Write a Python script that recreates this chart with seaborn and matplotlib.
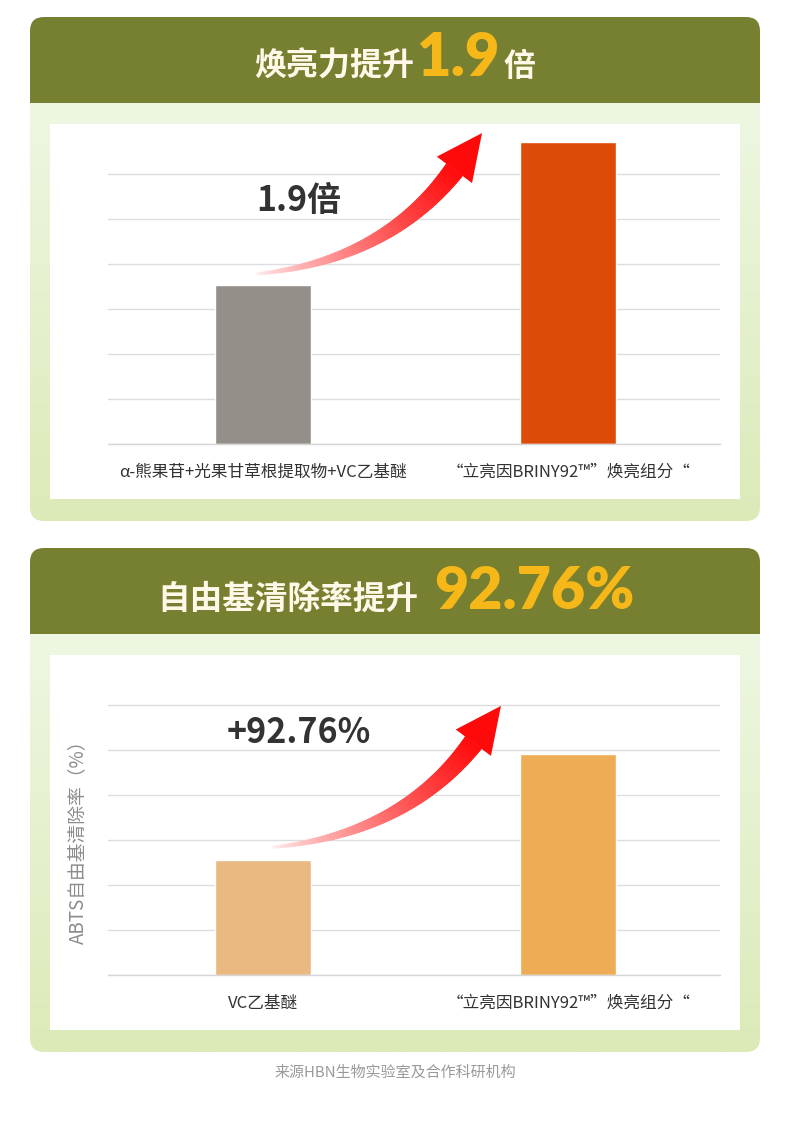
import numpy as np
import pandas as pd
import matplotlib
matplotlib.use("Agg")
import matplotlib.pyplot as plt
import seaborn as sns
from matplotlib.patches import FancyBboxPatch, Rectangle, Polygon
from matplotlib.collections import PolyCollection

W, H = 790, 1145

# chart 1: brightening power
BRIGHT_CATS = ["α-熊果苷+光果甘草根提取物+VC乙基醚", "“立亮因BRINY92™”焕亮组分“"]
BRIGHT_VALS = [3.54, 6.72]
BRIGHT_COLORS = ["#958F8A", "#DE4A08"]
BRIGHT_NOTE = "1.9倍"
BRIGHT_TITLE = ["焕亮力提升", "1.9", "倍"]

# chart 2: free radical scavenging rate
RADICAL_CATS = ["VC乙基醚", "“立亮因BRINY92™”焕亮组分“"]
RADICAL_VALS = [2.56, 4.91]
RADICAL_COLORS = ["#EAB982", "#EEAC55"]
RADICAL_NOTE = "+92.76%"
RADICAL_TITLE = ["自由基清除率提升", "92.76%"]
RADICAL_YLABEL = "ABTS自由基清除率（%）"

SOURCE = "来源HBN生物实验室及合作科研机构"

CJK = ["Noto Sans CJK SC", "DejaVu Sans"]
DIGIT = ["Lato", "Noto Sans CJK SC", "DejaVu Sans"]
CREAM = "#FFF8E8"
YELLOW = "#F5B818"
OLIVE = "#778031"

sns.set_theme(style="white")
plt.rcParams["font.family"] = CJK

fig = plt.figure(figsize=(W / 100, H / 100), dpi=100)
fig.patch.set_facecolor("white")

bg = fig.add_axes([0, 0, 1, 1], zorder=0)
top = fig.add_axes([0, 0, 1, 1], zorder=5)
for a in (bg, top):
    a.set_xlim(0, W)
    a.set_ylim(H, 0)
    a.axis("off")
    a.set_facecolor("none")


def px_axes(x0, y0, x1, y1):
    return fig.add_axes([x0 / W, 1 - y1 / H, (x1 - x0) / W, (y1 - y0) / H], zorder=2)


def draw_panel(y_top):
    box = FancyBboxPatch((30, y_top), 730, 504, boxstyle="round,pad=0,rounding_size=14",
                         fc="none", ec="none")
    bg.add_patch(box)
    g = np.linspace(0, 1, 200)[:, None, None]
    c0 = np.array([238, 247, 226]) / 255
    c1 = np.array([220, 234, 184]) / 255
    img = c0 + (c1 - c0) * g
    im = bg.imshow(img, extent=(30, 760, y_top + 504, y_top + 85), aspect="auto", zorder=0.5)
    im.set_clip_path(box)
    hdr = Rectangle((30, y_top), 730, 86, fc=OLIVE, ec="none", zorder=0.6)
    bg.add_patch(hdr)
    hdr.set_clip_path(box)
    bg.add_patch(Rectangle((50, y_top + 107), 690, 375, fc="white", ec="none", zorder=0.7))
    bg.set_xlim(0, W)
    bg.set_ylim(H, 0)


def draw_title(parts, xc, base):
    r = fig.canvas.get_renderer()
    items = []
    for s, size, color, fam, weight, gap in parts:
        t = top.text(0, base, s, fontsize=size, color=color, family=fam,
                     fontweight=weight, va="baseline", ha="left")
        items.append((t, gap, t.get_window_extent(r).width))
    total = sum(w + g for _, g, w in items)
    x = xc - total / 2
    for t, g, w in items:
        x += g
        t.set_x(x)
        x += w


def draw_chart(y_base, cats, vals, colors, note, note_xy):
    ax = px_axes(108, y_base - 320, 720, y_base)
    df = pd.DataFrame({"cat": cats, "val": vals})
    sns.barplot(data=df, x="cat", y="val", hue="cat", palette=dict(zip(cats, colors)),
                width=0.315, saturation=1, legend=False, ax=ax)
    ax.set_xlim(-0.508, 1.498)
    ax.set_ylim(0, 320 / 45)
    ax.set_facecolor("none")
    ax.set_yticks(range(7))
    ax.grid(True, axis="y", color="#DDDDDD", lw=1)
    ax.set_axisbelow(True)
    for side in ("left", "top", "right"):
        ax.spines[side].set_visible(False)
    ax.spines["bottom"].set_color("#D6D6D6")
    ax.spines["bottom"].set_linewidth(1)
    ax.tick_params(axis="x", length=0, pad=14, labelsize=12, labelcolor="#333333")
    ax.tick_params(axis="y", length=0, labelleft=False)
    ax.set_xlabel("")
    ax.set_ylabel("")
    ax.text(note_xy[0], note_xy[1], note, ha="center", va="center", fontsize=24.5,
            fontweight="bold", color="#333333", zorder=5)
    return ax


def draw_arrow(ax, start, tip):
    to_px = ax.transData + top.transData.inverted()
    S = np.array(to_px.transform(start))
    T = np.array(to_px.transform(tip))
    d = np.array([0.6, -0.8])
    B = T - 46 * d
    s0 = np.array([1.0, -0.1])
    s0 /= np.linalg.norm(s0)
    a, b = np.linalg.solve(np.column_stack([s0, d]), B - S)
    P1 = S + a * s0
    u = np.linspace(0, 1, 140)
    pts = ((1 - u) ** 2)[:, None] * S + (2 * (1 - u) * u)[:, None] * P1 + (u ** 2)[:, None] * B
    tang = (2 * (1 - u))[:, None] * (P1 - S) + (2 * u)[:, None] * (B - P1)
    tang /= np.linalg.norm(tang, axis=1)[:, None]
    nrm = np.column_stack([-tang[:, 1], tang[:, 0]])
    half = (2 + 18 * u) / 2
    left = pts + nrm * half[:, None]
    right = pts - nrm * half[:, None]
    polys = [[left[i], left[i + 1], right[i + 1], right[i]] for i in range(len(u) - 1)]
    mix = ((u[:-1] + u[1:]) / 2) ** 0.75
    light = np.array([1.0, 0.95, 0.95])
    red = np.array([1.0, 0.04, 0.04])
    cols = light + (red - light) * mix[:, None]
    top.add_collection(PolyCollection(polys, facecolors=cols, edgecolors=cols, linewidths=0.6),
                       autolim=False)
    n = np.array([-d[1], d[0]])
    top.add_patch(Polygon([T, B + n * 22, B - n * 22], closed=True, fc="#FF0A0A", ec="none"))


# panel 1
draw_panel(17)
draw_title([(BRIGHT_TITLE[0], 23, CREAM, CJK, "bold", 0),
            (BRIGHT_TITLE[1], 43, YELLOW, DIGIT, "heavy", 3),
            (BRIGHT_TITLE[2], 23, CREAM, CJK, "bold", 3)], 395, 76)
ax1 = draw_chart(444, BRIGHT_CATS, BRIGHT_VALS, BRIGHT_COLORS, BRIGHT_NOTE, (0.118, 5.42))
draw_arrow(ax1, (-0.02, 3.78), (0.718, 6.91))

# panel 2
draw_panel(548)
draw_title([(RADICAL_TITLE[0], 23.5, CREAM, CJK, "bold", 0),
            (RADICAL_TITLE[1], 42.5, YELLOW, DIGIT, "heavy", 15)], 396, 609)
ax2 = draw_chart(975, RADICAL_CATS, RADICAL_VALS, RADICAL_COLORS, RADICAL_NOTE, (0.118, 5.38))
ax2.set_ylabel(RADICAL_YLABEL, fontsize=13.5, color="#8C8C8C")
ax2.yaxis.set_label_coords(-0.033, 0.43)
draw_arrow(ax2, (0.033, 2.84), (0.780, 5.98))

top.text(395, 1073, SOURCE, ha="center", va="center", fontsize=10.8, color="#9A9A9A")

fig.savefig("out.png", dpi=100, facecolor="white")
